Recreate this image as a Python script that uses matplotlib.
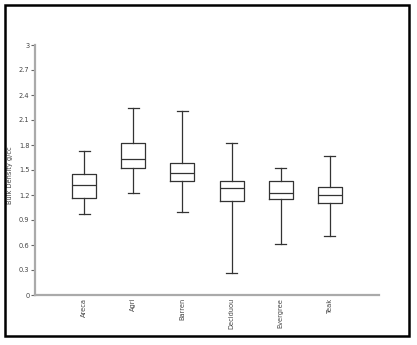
import matplotlib
matplotlib.use("Agg")
import matplotlib.pyplot as plt
from matplotlib.patches import Rectangle

# valores (densidad aparente, g/cc)
categorias = ["Areca", "Agri", "Barren", "Deciduou", "Evergree", "Teak"]
whis_min = [0.97, 1.22, 1.00, 0.26, 0.61, 0.71]
q1 = [1.17, 1.53, 1.37, 1.13, 1.15, 1.10]
mediana = [1.32, 1.63, 1.47, 1.29, 1.23, 1.20]
q3 = [1.45, 1.83, 1.59, 1.37, 1.37, 1.30]
whis_max = [1.73, 2.25, 2.21, 1.82, 1.53, 1.67]
yticks = [0, 0.3, 0.6, 0.9, 1.2, 1.5, 1.8, 2.1, 2.4, 2.7, 3]

stats = []
for i, nombre in enumerate(categorias):
    stats.append({
        "label": nombre,
        "whislo": whis_min[i], "q1": q1[i], "med": mediana[i],
        "q3": q3[i], "whishi": whis_max[i], "fliers": [],
    })

fig = plt.figure(figsize=(4.17, 3.45), dpi=100)
ax = fig.add_axes([35 / 417, 50 / 345, 344 / 417, 250 / 345])

linea = dict(color="#333333", linewidth=0.9)
ax.bxp(stats, positions=range(1, len(categorias) + 1), widths=0.49,
       capwidths=0.22, showfliers=False,
       boxprops=linea, whiskerprops=linea, capprops=linea,
       medianprops=linea)

ax.set_xlim(0, 7)
ax.set_ylim(0, 3)
ax.set_yticks(yticks)
ax.set_yticklabels([f"{v:g}" for v in yticks])
ax.set_xticks(range(1, len(categorias) + 1))
ax.set_xticklabels(categorias, rotation=90, va="top", ha="center")

for lado in ["top", "right"]:
    ax.spines[lado].set_visible(False)
for lado in ["left", "bottom"]:
    ax.spines[lado].set_color("#aaaaaa")
    ax.spines[lado].set_linewidth(1.6)

ax.tick_params(axis="y", length=3, width=0.8, color="#666666",
               labelsize=4.8, labelcolor="#444444", pad=1)
ax.tick_params(axis="x", length=0, labelsize=4.8, labelcolor="#444444", pad=2)
ax.set_ylabel("Bulk Density g/cc", fontsize=4.8, color="#444444")
ax.yaxis.set_label_coords(-0.064, 0.48)

# marco negro alrededor de la figura
fig.patches.append(Rectangle((5 / 417, 9 / 345), 404 / 417, 331 / 345,
                             transform=fig.transFigure, fill=False,
                             edgecolor="black", linewidth=1.8))

fig.savefig("out.png", dpi=100)
